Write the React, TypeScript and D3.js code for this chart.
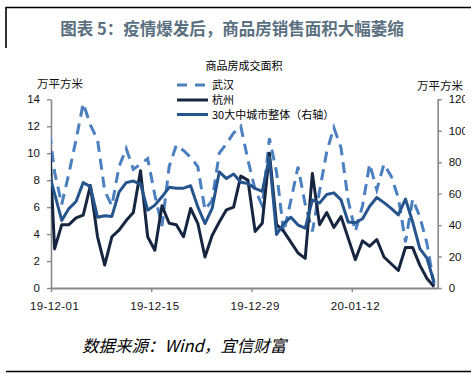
import React, { useEffect, useRef } from "react";
import * as d3 from "d3";

// Daily categories, 2019-11-30 .. 2020-01-23 (first day falls left of the axis and is clipped)
const startDay = new Date(2019, 10, 30);
const endDay = new Date(2020, 0, 24);
const axisStart = new Date(2019, 11, 1);
const axisEnd = new Date(2020, 0, 24);
const tickDates = [new Date(2019, 11, 1), new Date(2019, 11, 15), new Date(2019, 11, 29), new Date(2020, 0, 12)];

const wuhan = [12.8, 8.6, 6.2, 8.5, 11.0, 13.7, 12.1, 11.0, 7.2, 6.1, 9.0, 10.35, 8.8, 9.2, 9.6, 6.9, 4.6, 9.0, 10.6, 10.2, 9.7, 9.0, 5.8, 6.5, 10.0, 10.7, 11.5, 12.0, 9.5, 7.3, 6.1, 11.1, 8.6, 4.1, 6.5, 9.0, 6.2, 4.2, 7.2, 10.1, 11.9, 10.4, 6.5, 4.2, 6.1, 9.2, 7.3, 9.2, 8.3, 6.7, 3.4, 6.6, 5.3, 3.3, 0.2];
const hangzhou = [13.9, 2.9, 4.7, 4.7, 5.2, 5.4, 7.6, 3.8, 1.7, 3.8, 4.3, 5.0, 5.6, 8.7, 3.8, 2.8, 6.1, 4.8, 4.7, 3.8, 5.9, 4.8, 2.3, 3.9, 4.9, 5.8, 6.0, 8.3, 8.0, 4.2, 4.8, 10.0, 4.7, 4.2, 3.4, 2.6, 2.2, 8.5, 4.7, 5.6, 4.5, 5.3, 3.7, 2.1, 3.5, 3.1, 3.6, 2.3, 1.8, 1.3, 3.0, 3.0, 1.7, 0.7, 0.1];
const city30 = [77, 60, 43, 50.5, 55, 67, 64.5, 45, 46, 45.5, 61, 67, 68, 66, 49.5, 52.7, 58, 64, 63.5, 63.5, 65, 51.6, 41, 50.6, 73.8, 69.6, 72.5, 67.3, 66.5, 63.3, 61.5, 83, 34, 41, 45, 40, 38, 56, 54, 59.5, 60.5, 56, 42, 41.5, 44, 52, 57.5, 54.3, 50.6, 46.5, 56.6, 42, 25, 19, 3.5];

const leftTicks = [0, 2, 4, 6, 8, 10, 12, 14];
const rightTicks = [0, 20, 40, 60, 80, 100, 120];

const seriesNames = ["武汉", "杭州", "30大中城市整体（右轴）"];
const chartTitle = "图表 5：疫情爆发后，商品房销售面积大幅萎缩";
const legendTitle = "商品房成交面积";
const unitLabel = "万平方米";
const sourceText = "数据来源：Wind，宜信财富";

const COLORS = { wuhan: "#4a7fc0", hangzhou: "#172640", city: "#25558c" };
const NUM_FONT = "'Liberation Sans', Arial, sans-serif";
const CJK_FONT = "'Noto Sans CJK SC', 'Liberation Sans', sans-serif";

export default function App() {
  const ref = useRef<SVGSVGElement | null>(null);

  useEffect(() => {
    const svg = d3.select(ref.current);
    svg.selectAll("*").remove();

    const L = 51, R = 437.7, T = 99.3, B = 288;
    const days = d3.timeDay.range(startDay, endDay);
    const x = d3.scaleTime().domain([axisStart, axisEnd]).range([L, R]);
    const yL = d3.scaleLinear().domain([0, 14]).range([B, T]);
    const yR = d3.scaleLinear().domain([0, 120]).range([B, T]);
    const cx = (d: Date) => x(d3.timeHour.offset(d, 12));

    // frame lines
    svg.append("path").attr("d", "M6,48V7.5H471").attr("fill", "none").attr("stroke", "#000").attr("stroke-width", 1.6);
    svg.append("line").attr("x1", 6).attr("x2", 471).attr("y1", 371.5).attr("y2", 371.5).attr("stroke", "#000").attr("stroke-width", 1.6);

    svg.append("text").attr("x", 232).attr("y", 35).attr("text-anchor", "middle")
      .attr("font-family", CJK_FONT).attr("font-weight", "bold").attr("font-size", 16.5)
      .attr("fill", "#5a6f80").text(chartTitle);

    svg.append("text").attr("x", 82).attr("y", 352)
      .attr("font-family", CJK_FONT).attr("font-style", "italic").attr("font-size", 16.5)
      .attr("fill", "#000").text(sourceText);

    // clip
    const defs = svg.append("defs");
    defs.append("clipPath").attr("id", "plotclip").append("rect")
      .attr("x", L).attr("y", 60).attr("width", R - L).attr("height", B - 60 + 4);
    defs.append("clipPath").attr("id", "rclip").append("rect")
      .attr("x", -10).attr("y", 0).attr("width", 465 - R + 10).attr("height", 380);

    // axes
    const axisColor = "#888";
    const gL = svg.append("g").attr("transform", `translate(${L},0)`);
    gL.call(d3.axisLeft(yL).tickValues(leftTicks).tickSize(4).tickPadding(7).tickSizeOuter(0));
    const gR = svg.append("g").attr("transform", `translate(${R},0)`).attr("clip-path", "url(#rclip)");
    gR.call(d3.axisRight(yR).tickValues(rightTicks).tickSize(4).tickPadding(7).tickSizeOuter(0));
    [gL, gR].forEach((g) => {
      g.select(".domain").attr("stroke", axisColor).attr("stroke-width", 1.6);
      g.selectAll(".tick line").attr("stroke", axisColor).attr("stroke-width", 1.4);
      g.selectAll(".tick text").attr("font-family", NUM_FONT).attr("font-size", 11.5).attr("fill", "#111");
    });
    const gX = svg.append("g").attr("transform", `translate(0,${B})`);
    gX.call(d3.axisBottom(x).tickValues(tickDates).tickSize(4).tickSizeOuter(0).tickFormat(() => ""));
    gX.select(".domain").attr("stroke", axisColor).attr("stroke-width", 1.8);
    gX.selectAll(".tick line").attr("stroke", axisColor).attr("stroke-width", 1.4);
    const fmt = d3.timeFormat("%y-%m-%d");
    gX.selectAll("text.xl").data(tickDates).enter().append("text").attr("class", "xl")
      .attr("x", (d) => cx(d)).attr("y", 22).attr("text-anchor", "middle")
      .attr("font-family", NUM_FONT).attr("font-size", 11.5).attr("fill", "#111")
      .attr("letter-spacing", 0.4).text((d) => fmt(d));

    // units
    svg.append("text").attr("x", 37).attr("y", 88).attr("font-family", CJK_FONT).attr("font-size", 11.5).attr("fill", "#111").text(unitLabel);
    svg.append("text").attr("x", 417).attr("y", 90).attr("font-family", CJK_FONT).attr("font-size", 11.5).attr("fill", "#111").text(unitLabel);

    // lines
    const plot = svg.append("g").attr("clip-path", "url(#plotclip)");
    const lineL = d3.line<number>().x((_, i) => cx(days[i])).y((v) => yL(v));
    const lineR = d3.line<number>().x((_, i) => cx(days[i])).y((v) => yR(v));
    plot.append("path").attr("d", lineL(wuhan)).attr("fill", "none").attr("stroke", COLORS.wuhan)
      .attr("stroke-width", 3).attr("stroke-dasharray", "11 7");
    plot.append("path").attr("d", lineL(hangzhou)).attr("fill", "none").attr("stroke", COLORS.hangzhou)
      .attr("stroke-width", 3).attr("stroke-linejoin", "round");
    plot.append("path").attr("d", lineR(city30)).attr("fill", "none").attr("stroke", COLORS.city)
      .attr("stroke-width", 3).attr("stroke-linejoin", "round");

    // legend
    svg.append("text").attr("x", 244).attr("y", 70).attr("text-anchor", "middle")
      .attr("font-family", CJK_FONT).attr("font-size", 11).attr("fill", "#000").text(legendTitle);
    const styles = [
      { c: COLORS.wuhan, dash: "10 8" },
      { c: COLORS.hangzhou, dash: null },
      { c: COLORS.city, dash: null },
    ];
    const rowsY = [85, 100, 114.5];
    seriesNames.forEach((n, i) => {
      const l = svg.append("line").attr("x1", 177).attr("x2", 208).attr("y1", rowsY[i]).attr("y2", rowsY[i])
        .attr("stroke", styles[i].c).attr("stroke-width", 3);
      if (styles[i].dash) l.attr("stroke-dasharray", styles[i].dash);
      svg.append("text").attr("x", 212).attr("y", rowsY[i] + 4).attr("font-family", CJK_FONT)
        .attr("font-size", 11).attr("fill", "#000").text(n);
    });
  }, []);

  return (
    <svg ref={ref} width={471} height={380} style={{ position: "absolute", left: 0, top: 0, background: "#fff" }} />
  );
}
